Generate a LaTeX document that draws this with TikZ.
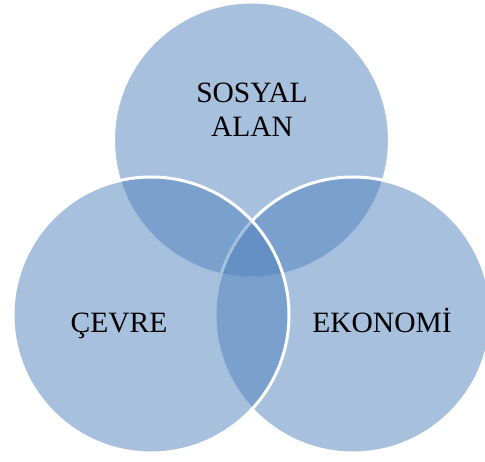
\documentclass[tikz,border=0pt]{standalone}
\usepackage{fontspec}
\setmainfont{Liberation Serif}
\usepackage{tikz}
\usetikzlibrary{positioning}

\definecolor{vennblue}{RGB}{79,129,189}

\tikzset{
  venn/.style={fill=vennblue, fill opacity=0.5, draw=white, line width=3pt},
  label/.style={inner sep=0pt, text=black, font=\fontsize{29.5}{34}\selectfont}
}

\begin{document}
\begin{tikzpicture}[x=1pt,y=1pt,yscale=-1,xscale=1]
\useasboundingbox (0,0) rectangle (485,462);

%Shape: Circle [id:sosyal]
\draw [venn] (251.5,140) circle (138) ;
%Shape: Circle [id:ekonomi]
\draw [venn] (353,315) circle (138) ;
%Shape: Circle [id:cevre]
\draw [venn] (151,315) circle (138) ;

% Text Node
\node [label, align=center] (sosyaltext) at (252,110) {SOSYAL\\ALAN};
% Text Node
\node [label, anchor=base] (cevretext) at (119,333) {ÇEVRE};
% Text Node
\node [label, anchor=base] (ekonomitext) at (382,333) {EKONOMİ};

\end{tikzpicture}
\end{document}
